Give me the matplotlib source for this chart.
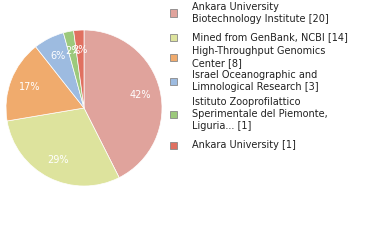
import matplotlib
matplotlib.use("Agg")
import matplotlib.pyplot as plt
from matplotlib.patches import Rectangle

labels = ["Ankara University\nBiotechnology Institute [20]",
          "Mined from GenBank, NCBI [14]",
          "High-Throughput Genomics\nCenter [8]",
          "Israel Oceanographic and\nLimnological Research [3]",
          "Istituto Zooprofilattico\nSperimentale del Piemonte,\nLiguria... [1]",
          "Ankara University [1]"]
values = [20, 14, 8, 3, 1, 1]
colors = ["#e0a39c", "#dde39d", "#f0ab6d", "#9dbbe0", "#9cc97c", "#e07060"]
legend_y = [13, 37, 57, 81, 114, 145]  # px centers of legend entries

W, H = 380, 240
fig = plt.figure(figsize=(W / 100, H / 100), dpi=100)
cx, cy, r = 84, 108, 78
ax = fig.add_axes([(cx - r) / W, (H - cy - r) / H, 2 * r / W, 2 * r / H])
total = sum(values)

def fmt(p):
    return "%d%%" % int(p)

wedges, texts, autotexts = ax.pie(values, colors=colors, startangle=90, counterclock=False,
                                  autopct=fmt, pctdistance=0.74,
                                  wedgeprops=dict(edgecolor="white", linewidth=0.5),
                                  textprops=dict(color="white", fontsize=7, family="DejaVu Sans"))
ax.set_xlim(-1, 1)
ax.set_ylim(-1, 1)
ax.set_aspect("equal")
ax.axis("off")

for lab, col, y in zip(labels, colors, legend_y):
    s = 7
    fig.patches.append(Rectangle(((173 - s / 2) / W, (H - y - s / 2) / H), s / W, s / H,
                                 transform=fig.transFigure, facecolor=col,
                                 edgecolor="#888888", linewidth=0.6))
    fig.text(192 / W, (H - y) / H, lab, fontsize=7, family="DejaVu Sans", color="#222222",
             va="center", ha="left", linespacing=1.25)

fig.savefig("out.png", dpi=100)
